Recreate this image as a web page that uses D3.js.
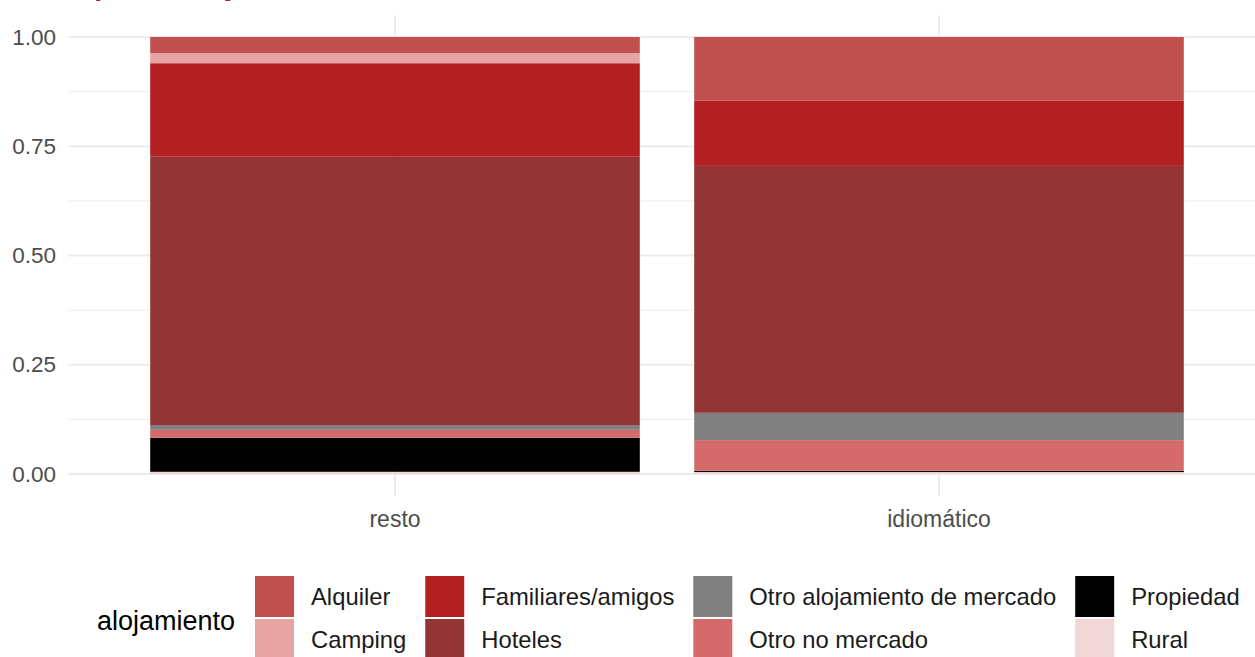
<!DOCTYPE html>
<html>
<head>
<meta charset="utf-8">
<script src="https://cdn.jsdelivr.net/npm/d3@7"></script>
<style>
  html, body { margin: 0; padding: 0; background: #ffffff; overflow: hidden; }
  svg { display: block; font-family: "Liberation Sans", Arial, sans-serif; }
</style>
</head>
<body>
<svg id="chart" width="1255" height="657"></svg>
<script>
// ---- data ----
const title = "Tipo de alojamiento";
const categories = ["resto", "idiomático"];
const keys = ["Alquiler", "Camping", "Familiares/amigos", "Hoteles",
              "Otro alojamiento de mercado", "Otro no mercado", "Propiedad", "Rural"];
const restoValues      = [0.037, 0.023, 0.214, 0.614, 0.011, 0.018, 0.078, 0.005];
const idiomaticoValues = [0.146, 0.000, 0.149, 0.565, 0.0625, 0.070, 0.003, 0.0045];
const colors = ["#c0504d", "#e6a5a3", "#b22022", "#943535",
                "#808080", "#d46a6a", "#000000", "#f2d7d8"];
const yTicks = [0, 0.25, 0.5, 0.75, 1];
const yMinorTicks = [0.125, 0.375, 0.625, 0.875];
const legendTitle = "alojamiento";

// ---- build table ----
const seriesByCat = { "resto": restoValues, "idiomático": idiomaticoValues };
const table = categories.map(c => {
  const row = { cat: c };
  keys.forEach((k, i) => row[k] = seriesByCat[c][i]);
  return row;
});

const svg = d3.select("#chart");
const panelLeft = 68.6, step = 544;
const x = d3.scaleBand().domain(categories)
  .range([panelLeft, panelLeft + 2.2 * step])
  .paddingInner(0.1).paddingOuter(0.15);
const y = d3.scaleLinear().domain([0, 1]).range([474, 37]);
const color = d3.scaleOrdinal().domain(keys).range(colors);
const panelTop = y(1.05), panelBottom = y(-0.05);

// title (mostly cropped at the top, as in the reference)
svg.append("text").attr("x", 68).attr("y", -5)
  .attr("font-size", 30).attr("font-weight", "bold")
  .attr("fill", "#b22022").text(title);

// grid
const grid = svg.append("g");
grid.selectAll("line.minor").data(yMinorTicks).join("line")
  .attr("x1", panelLeft).attr("x2", 1265)
  .attr("y1", d => y(d)).attr("y2", d => y(d))
  .attr("stroke", "#f0f0f0").attr("stroke-width", 1.2);
grid.selectAll("line.major").data(yTicks).join("line")
  .attr("x1", panelLeft).attr("x2", 1265)
  .attr("y1", d => y(d)).attr("y2", d => y(d))
  .attr("stroke", "#ebebeb").attr("stroke-width", 2);
grid.selectAll("line.vert").data(categories).join("line")
  .attr("x1", d => x(d) + x.bandwidth() / 2).attr("x2", d => x(d) + x.bandwidth() / 2)
  .attr("y1", panelTop).attr("y2", panelBottom)
  .attr("stroke", "#ebebeb").attr("stroke-width", 2);

// bars (first key on top, as in ggplot)
const stack = d3.stack().keys(keys.slice().reverse());
const layers = stack(table);
svg.append("g").selectAll("g").data(layers).join("g")
  .attr("fill", d => color(d.key))
  .selectAll("rect").data(d => d).join("rect")
  .attr("x", d => x(d.data.cat))
  .attr("width", x.bandwidth())
  .attr("y", d => y(d[1]))
  .attr("height", d => Math.max(0, y(d[0]) - y(d[1])));

// y axis labels
const yAxis = d3.axisLeft(y).tickValues(yTicks).tickFormat(d3.format(".2f")).tickSize(0).tickPadding(0);
const yg = svg.append("g").attr("transform", "translate(56,0)").call(yAxis);
yg.select(".domain").remove();
yg.selectAll("text").attr("font-size", 22.5).attr("fill", "#4d4d4d")
  .attr("font-family", "Liberation Sans, Arial, sans-serif");

// x axis labels
const xAxis = d3.axisBottom(x).tickSize(0).tickPadding(0);
const xg = svg.append("g").attr("transform", "translate(0,511)").call(xAxis);
xg.select(".domain").remove();
xg.selectAll("text").attr("font-size", 23).attr("fill", "#4d4d4d")
  .attr("font-family", "Liberation Sans, Arial, sans-serif");

// legend
const leg = svg.append("g");
leg.append("text").attr("x", 97).attr("y", 630)
  .attr("font-size", 27).attr("fill", "#000").text(legendTitle);
const keyW = 39, keyH = 41, rowY = [576, 619], labelGap = 17, colGap = 19;
let colX = 255;
const nCols = Math.ceil(keys.length / 2);
for (let c = 0; c < nCols; c++) {
  let maxW = 0;
  for (let r = 0; r < 2; r++) {
    const k = keys[c * 2 + r];
    if (!k) continue;
    leg.append("rect").attr("x", colX).attr("y", rowY[r])
      .attr("width", keyW).attr("height", keyH).attr("fill", color(k));
    const t = leg.append("text").attr("x", colX + keyW + labelGap).attr("y", rowY[r] + keyH / 2 + 8.5)
      .attr("font-size", 23.8).attr("fill", "#1a1a1a").text(k);
    maxW = Math.max(maxW, t.node().getComputedTextLength());
  }
  colX += keyW + labelGap + maxW + colGap;
}
</script>
</body>
</html>
